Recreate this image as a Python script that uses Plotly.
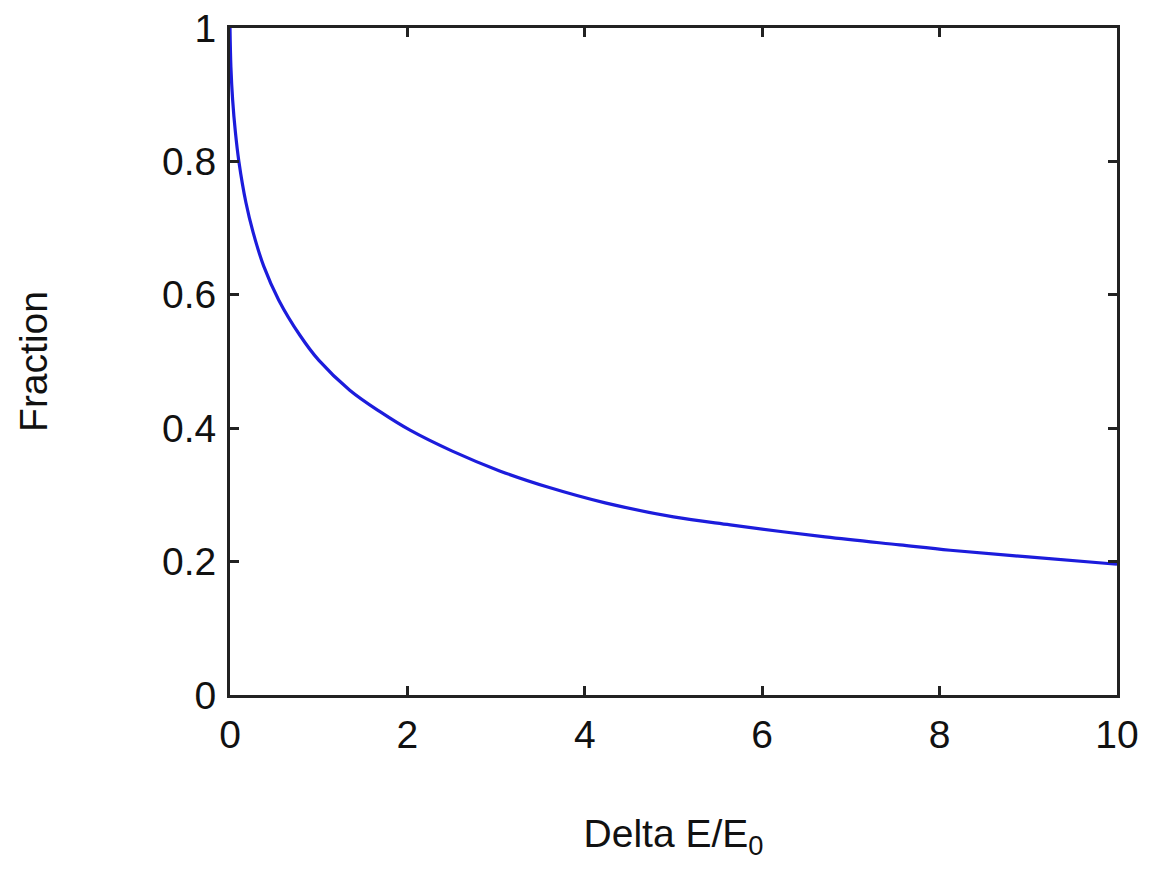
import plotly.graph_objects as go

delta_e = [0, 0.01, 0.03, 0.06, 0.1, 0.18, 0.26, 0.38, 0.55, 0.79, 1.0, 1.35, 1.7,
           2.03, 2.5, 3.04, 3.6, 4.23, 5.0, 5.64, 6.71, 7.55, 8.12, 9.0, 10.0]
fraction = [1.0, 0.942, 0.892, 0.845, 0.80, 0.738, 0.694, 0.643, 0.592, 0.539, 0.502, 0.457, 0.424,
            0.397, 0.366, 0.336, 0.311, 0.288, 0.267, 0.255, 0.237, 0.225, 0.217, 0.207, 0.196]

x_ticks = [0, 2, 4, 6, 8, 10]
y_ticks = [0, 0.2, 0.4, 0.6, 0.8, 1]
y_tick_labels = ["0", "0.2", "0.4", "0.6", "0.8", "1"]

fig = go.Figure()
fig.add_trace(go.Scatter(x=delta_e, y=fraction, mode="lines",
                         line=dict(color="#1c1cdc", width=3.2, shape="spline", smoothing=1.0),
                         showlegend=False))

font = dict(family="Liberation Sans, Arial, sans-serif", size=39, color="#111")
axis_common = dict(showgrid=False, zeroline=False, showline=True, linecolor="#222",
                   linewidth=3, mirror="ticks", ticks="inside", ticklen=9,
                   tickwidth=2.5, tickcolor="#222", tickfont=font, automargin=False)

fig.update_layout(
    width=1152, height=888,
    margin=dict(l=230, r=35, t=28, b=193),
    paper_bgcolor="white", plot_bgcolor="white",
    font=font,
    xaxis=dict(range=[0, 10], tickvals=x_ticks, ticktext=[str(v) for v in x_ticks],
               title=dict(text="Delta E/E<sub>0</sub>", font=font, standoff=65),
               ticklabelstandoff=3, **axis_common),
    yaxis=dict(range=[0, 1], tickvals=y_ticks, ticktext=y_tick_labels,
               title=dict(text="Fraction", font=font, standoff=103),
               ticklabelstandoff=3, **axis_common),
)

fig.write_html("out.html")
